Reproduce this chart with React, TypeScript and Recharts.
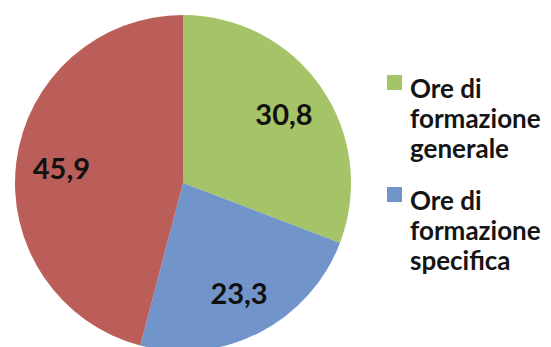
import { PieChart, Pie, Cell, Legend } from 'recharts';

const categories = ['Ore di formazione generale', 'Ore di formazione specifica', 'Altro'];
const values = [30.8, 23.3, 45.9];
const colors = ['#A5C367', '#7194CB', '#BB5D59'];
const legendItems = [
  { lines: ['Ore di', 'formazione', 'generale'], color: colors[0] },
  { lines: ['Ore di', 'formazione', 'specifica'], color: colors[1] },
];

const data = categories.map((name, i) => ({ name, value: values[i] }));
const RADIAN = Math.PI / 180;

const renderLabel = (p: any) => {
  const r = p.outerRadius * 0.73;
  const x = p.cx + r * Math.cos(-p.midAngle * RADIAN);
  const y = p.cy + r * Math.sin(-p.midAngle * RADIAN);
  return (
    <text x={x} y={y} textAnchor="middle" dominantBaseline="central" fill="#111" fontSize={29} fontWeight={700} fontFamily="Lato, sans-serif">
      {Number(p.value).toFixed(1).replace('.', ',')}
    </text>
  );
};

const renderLegend = () => (
  <div style={{ fontFamily: 'Lato, sans-serif', fontWeight: 700, fontSize: 26, lineHeight: '30px', color: '#151515' }}>
    {legendItems.map((it, i) => (
      <div key={i} style={{ display: 'flex', marginBottom: 22 }}>
        <div style={{ width: 15, height: 15, background: it.color, marginTop: 2, marginRight: 8, flex: 'none' }} />
        <div>
          {it.lines.map((l) => (
            <div key={l}>{l}</div>
          ))}
        </div>
      </div>
    ))}
  </div>
);

export default function App() {
  return (
    <div style={{ position: 'fixed', left: 0, top: 0, background: '#fff' }}>
      <PieChart width={551} height={347} margin={{ top: 0, right: 0, bottom: 0, left: 0 }}>
        <Pie
          data={data}
          dataKey="value"
          nameKey="name"
          cx={183}
          cy={183}
          outerRadius={168}
          startAngle={90}
          endAngle={-270}
          stroke="none"
          label={renderLabel}
          labelLine={false}
          isAnimationActive={false}
        >
          {data.map((d, i) => (
            <Cell key={d.name} fill={colors[i]} />
          ))}
        </Pie>
        <Legend content={renderLegend} wrapperStyle={{ left: 387, top: 73, width: 164 }} />
      </PieChart>
    </div>
  );
}
